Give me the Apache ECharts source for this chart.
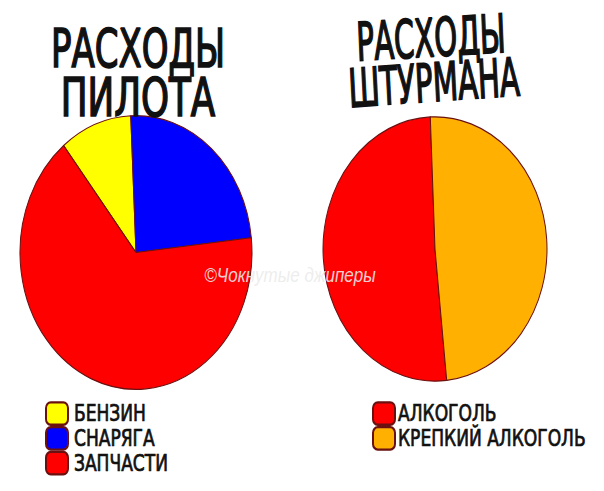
<!DOCTYPE html>
<html><head><meta charset="utf-8">
<script src="https://cdn.jsdelivr.net/npm/echarts@6/dist/echarts.min.js"></script>
<style>
html,body{margin:0;padding:0;background:#fff;overflow:hidden}
#wrap{width:604px;height:491px;overflow:hidden;position:relative}
#c{width:604px;height:440px;transform:scaleY(1.18);transform-origin:0 0}
</style>
</head><body><div id="wrap"><div id="c"></div></div>
<script>
const pilotTitle = ['РАСХОДЫ', 'ПИЛОТА'];
const navTitle = ['РАСХОДЫ', 'ШТУРМАНА'];
const pilotCategories = ['БЕНЗИН', 'СНАРЯГА', 'ЗАПЧАСТИ'];
const pilotValues = [10, 24, 66];
const pilotColors = ['#ffff00', '#0000ff', '#ff0000'];
const navCategories = ['АЛКОГОЛЬ', 'КРЕПКИЙ АЛКОГОЛЬ'];
const navValues = [51, 49];
const navColors = ['#ff0000', '#ffb000'];
const watermark = '©Чокнутые джиперы';

const chart = echarts.init(document.getElementById('c'), null, {renderer: 'svg'});
const FONT = 'DejaVu Sans Condensed';
function titleText(t, x, y, rot, sx) {
  return {type: 'text', x: x, y: y, rotation: rot || 0, scaleX: sx, z: 10,
    style: {text: t, fill: '#111', stroke: '#111', lineWidth: 1.4, font: '45px "' + FONT + '"', align: 'center', verticalAlign: 'middle'}};
}
const legendText = {fontFamily: FONT, fontSize: 19, lineHeight: 19, color: '#111', textBorderColor: '#111', textBorderWidth: 0.6};
chart.setOption({
  animation: false,
  backgroundColor: '#fff',
  graphic: [
    titleText(pilotTitle[0], 138, 41, 0, 0.84),
    titleText(pilotTitle[1], 138, 83, 0, 0.88),
    titleText(navTitle[0], 431, 32, 0.05, 0.72),
    titleText(navTitle[1], 434, 70, 0.06, 0.72),
    {type: 'text', x: 290, y: 233, z: 20,
      style: {text: watermark, fill: 'rgba(235,235,235,0.9)', font: 'italic 17px "Liberation Sans"',
        align: 'center', verticalAlign: 'middle', shadowColor: 'rgba(0,0,0,0.25)', shadowBlur: 2}}
  ],
  legend: [
    {data: pilotCategories, orient: 'vertical', left: 40, top: 335, itemWidth: 22, itemHeight: 19, itemGap: 0,
      icon: 'roundRect', selectedMode: false, textStyle: Object.assign({padding: [0, 0, 0, 1]}, legendText)},
    {data: navCategories, orient: 'vertical', left: 367, top: 335, itemWidth: 22, itemHeight: 19, itemGap: 0,
      icon: 'roundRect', selectedMode: false, textStyle: Object.assign({padding: [0, 0, 0, -2]}, legendText)}
  ],
  series: [
    {type: 'pie', name: 'pilot', center: [136, 214], radius: [0, 116], startAngle: 128.6, clockwise: true,
      label: {show: false}, labelLine: {show: false}, silent: true,
      itemStyle: {borderColor: '#6a1010', borderWidth: 1},
      data: pilotCategories.map((n, i) => ({name: n, value: pilotValues[i], itemStyle: {color: pilotColors[i]}}))},
    {type: 'pie', name: 'nav', center: [435, 211], radius: [0, 112], startAngle: -84, clockwise: true,
      label: {show: false}, labelLine: {show: false}, silent: true,
      itemStyle: {borderColor: '#6a1010', borderWidth: 1},
      data: navCategories.map((n, i) => ({name: n, value: navValues[i], itemStyle: {color: navColors[i]}}))}
  ]
});
</script></body></html>
